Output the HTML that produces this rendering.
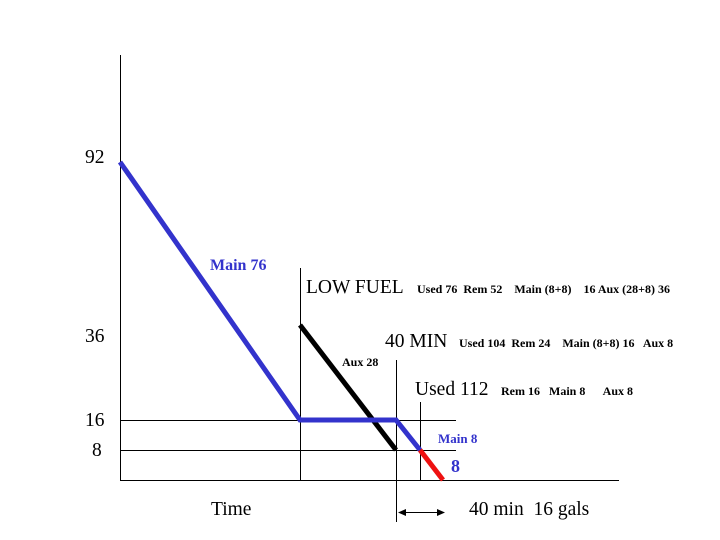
<!DOCTYPE html><html><head><style>body{margin:0;background:#fff}svg{display:block}text{font-family:"Liberation Serif",serif;white-space:pre}</style></head><body>
<svg width="720" height="540" xmlns="http://www.w3.org/2000/svg" xml:space="preserve">
<g stroke="#000" stroke-width="1">
<line x1="120.5" y1="55" x2="120.5" y2="480"/>
<line x1="120" y1="480.5" x2="619" y2="480.5"/>
<line x1="120" y1="420.5" x2="456" y2="420.5"/>
<line x1="120" y1="450.5" x2="456" y2="450.5"/>
<line x1="300.5" y1="268" x2="300.5" y2="480"/>
<line x1="396.5" y1="360" x2="396.5" y2="522"/>
<line x1="420.5" y1="402" x2="420.5" y2="480"/>
<line x1="400" y1="512.5" x2="442" y2="512.5"/>
</g>
<polygon points="398,512.5 406,509 406,516" fill="#000"/>
<polygon points="445,512.5 437,509 437,516" fill="#000"/>
<line x1="300" y1="325" x2="396" y2="450" stroke="#000" stroke-width="5"/>
<polyline points="120,162 300,420 396,420 420,450" fill="none" stroke="#3333cc" stroke-width="5"/>
<line x1="420" y1="450" x2="443" y2="480" stroke="#ee1111" stroke-width="5"/>
<g font-size="19.5" fill="#000">
<text x="85" y="163">92</text><text x="85" y="342">36</text><text x="85" y="426">16</text><text x="92" y="456">8</text>
<text x="211" y="515">Time</text><text x="469" y="515">40 min  16 gals</text>
<text x="306" y="293">LOW FUEL</text><text x="385" y="347">40 MIN</text><text x="415" y="395">Used 112</text>
</g>
<g font-size="12" font-weight="bold" fill="#000">
<text x="417" y="293">Used 76  Rem 52    Main (8+8)    16 Aux (28+8) 36</text>
<text x="459" y="347">Used 104  Rem 24    Main (8+8) 16   Aux 8</text>
<text x="501" y="395">Rem 16   Main 8      Aux 8</text>
<text x="342" y="366">Aux 28</text>
</g>
<text x="210" y="270" font-size="16" font-weight="bold" fill="#3333cc">Main 76</text>
<text x="438" y="443" font-size="13" font-weight="bold" fill="#3333cc">Main 8</text>
<text x="451" y="472" font-size="18" font-weight="bold" fill="#3333cc">8</text>
</svg></body></html>
